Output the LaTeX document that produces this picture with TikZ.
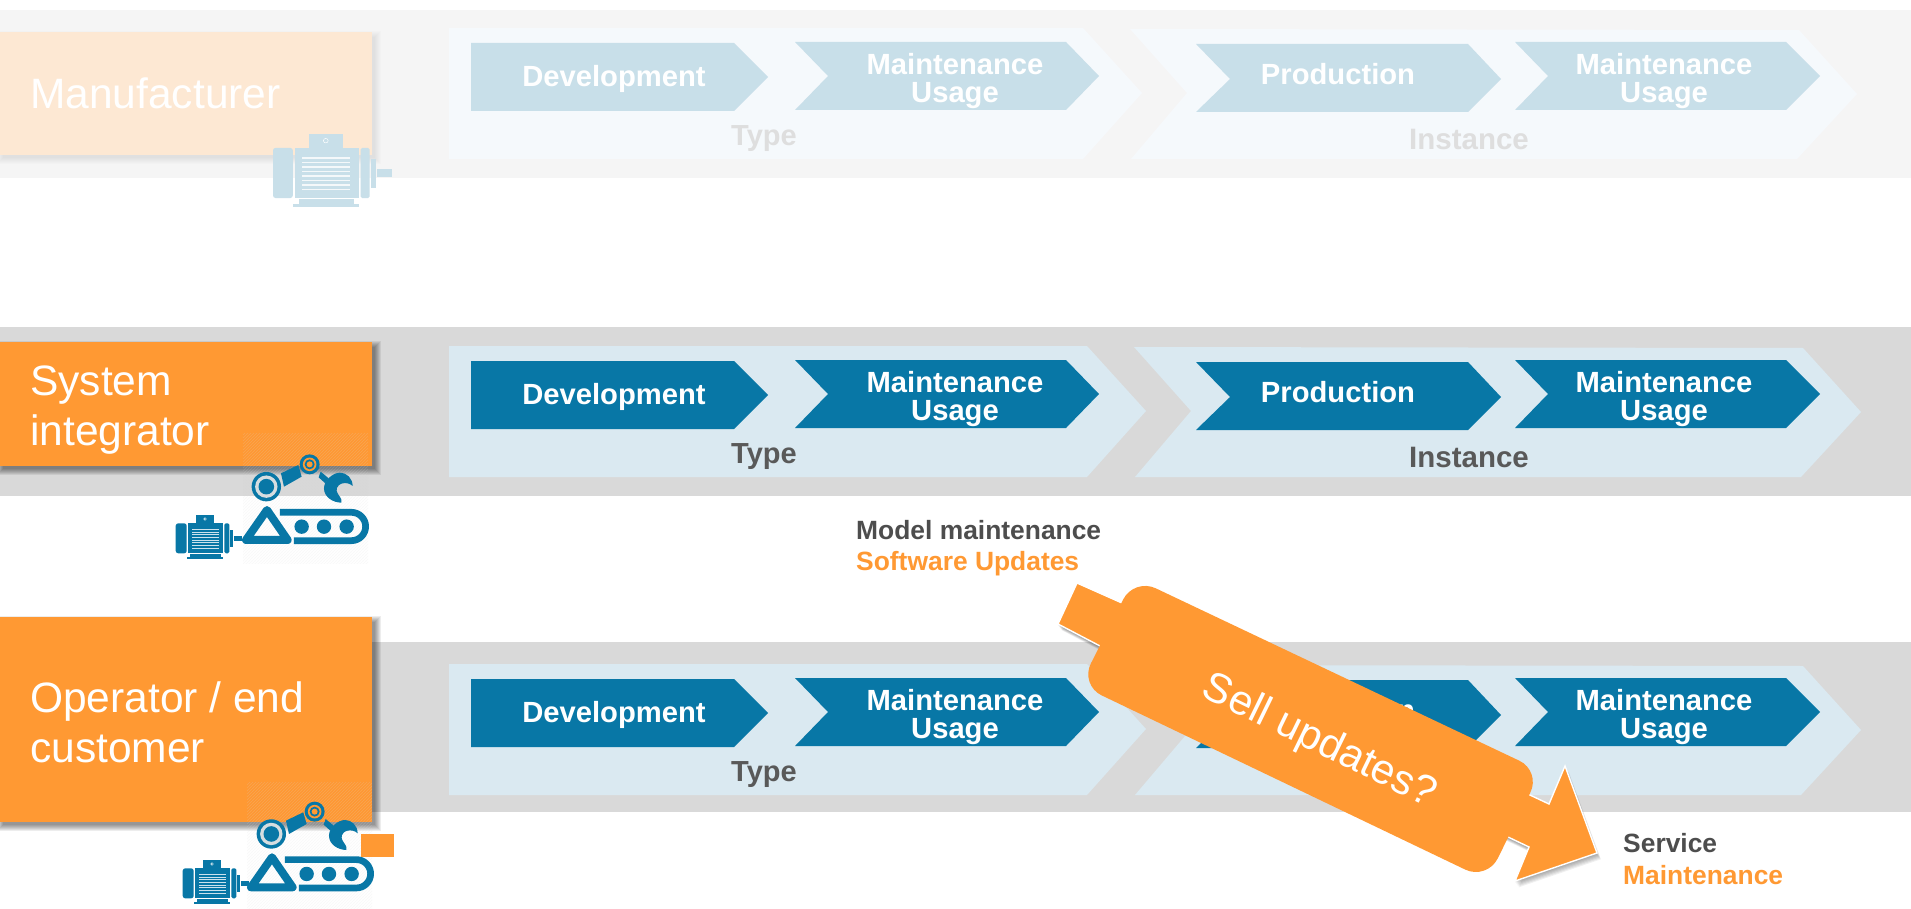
\documentclass[tikz,border=0pt]{standalone}
\usepackage{fontspec}
\setmainfont{Liberation Sans}
\usetikzlibrary{patterns}
\definecolor{obl}{HTML}{0877A6}
\definecolor{org}{HTML}{FF9933}
\definecolor{lbl}{HTML}{DAE9F1}
\definecolor{gry}{HTML}{D9D9D9}
\definecolor{txg}{HTML}{595959}
\definecolor{txd}{HTML}{4D4D4D}
\definecolor{pband}{HTML}{F5F5F5}
\definecolor{palout}{HTML}{F5F9FC}
\definecolor{palin}{HTML}{C8DFE9}
\definecolor{plab}{HTML}{DEDEDE}
\definecolor{pbox}{HTML}{FDE8D3}
\definecolor{ringc}{HTML}{D5DDE0}
\tikzset{
  x=1pt,y=-1pt,
  lab/.style={font=\bfseries\fontsize{29.2}{28}\selectfont,text=white,align=center,inner sep=0pt},
  typ/.style={font=\bfseries\fontsize{29}{29}\selectfont,inner sep=0pt},
  note/.style={font=\bfseries\fontsize{26.4}{26}\selectfont,inner sep=0pt,anchor=west},
  role/.style={font=\fontsize{42.5}{50}\selectfont,text=white,align=left,anchor=north west,inner sep=0pt},
  rolebox/.style={inner sep=0pt,anchor=north west,minimum width=372pt},
}
\newcommand{\softshadow}[5]{%
  \foreach \d in {0,1,2,3,4,5,6}{\fill[black,opacity=#5] (#1+\d-3,#2+\d-1) rectangle (#3+9-\d,#4+9-\d);}}
% #1 row name, #2 dy, #3 inner fill, #4 outer fill, #5 label colour, #6 outer dx
\newcommand{\chevrow}[6]{%
\begin{scope}[shift={(0,#2)}]
  \fill[#4] (449,346) -- (1087+#6,346) -- (1146+#6,411) -- (1087+#6,477) -- (449,477) -- cycle;
  \fill[#4] (1134+#6,347) -- (1803+#6,348) -- (1861+#6,412) -- (1801+#6,477) -- (1135+#6,477) -- (1191+#6,411) -- cycle;
  \fill[#3] (471,361) -- (734,361) -- (768,395) -- (734,429) -- (471,429) -- cycle;
  \fill[#3] (795,360) -- (1066,360) -- (1099,394) -- (1066,428) -- (795,428) -- (828,394) -- cycle;
  \fill[#3] (1196,362) -- (1468,362) -- (1501,397) -- (1468,430) -- (1196,430) -- (1230,397) -- cycle;
  \fill[#3] (1515,360) -- (1786,360) -- (1820,394) -- (1786,428) -- (1515,428) -- (1548,394) -- cycle;
  \node[lab] (dev#1) at (614,397) {Development};
  \node[lab] (mnt#1) at (955,399) {Maintenance\\Usage};
  \node[lab] (pro#1) at (1338,392) {Production};
  \node[lab] (usg#1) at (1664,399) {Maintenance\\Usage};
  \node[typ,text=#5] (typ#1) at (764,457) {Type};
  \node[typ,text=#5,font=\bfseries\fontsize{29.5}{30}\selectfont] (ins#1) at (1469,457) {Instance};
\end{scope}}
% motor: #1 x, #2 y, #3 xscale, #4 yscale, #5 colour; local units are thirds of a pixel
\newcommand{\motor}[5]{%
\begin{scope}[shift={(#1,#2)},x=#3*0.3333pt,y=-#4*0.3333pt]
  \fill[#5] (60,0) rectangle (116,25);
  \draw[white,line width=.5pt] (88,12) circle (4);
  \fill[#5,rounded corners=2.5pt] (0,25) rectangle (33,115);
  \fill[#5] (37,25) rectangle (143,115);
  \fill[#5,rounded corners=1.5pt] (146,25) rectangle (161,115);
  \fill[#5] (164,45) rectangle (171,97);
  \fill[#5] (174,62) rectangle (198,77);
  \fill[#5] (43,117) rectangle (135,125);
  \fill[#5] (33,125) rectangle (143,131);
  \foreach \yy in {42,50,58,66,74,82,90,98}{\fill[white,opacity=.8] (49,\yy) rectangle (129,\yy+3);}
\end{scope}}
% robot: #1 x, #2 y of the local origin; #3 colour of the elbow ring
\newcommand{\robot}[3]{%
\begin{scope}[shift={(#1,#2)},x=0.3333pt,y=-0.3333pt]
  \fill[obl] (439,200) ellipse (14.7pt and 14.7pt);
  \fill[ringc] (439,200) ellipse (11.2pt and 11.2pt);
  \fill[obl] (439,200) ellipse (7.8pt and 7.8pt);
  \fill[obl] (569,133) ellipse (10pt and 10pt);
  \fill[#3] (569,133) ellipse (6.8pt and 6.8pt);
  \fill[obl] (569,133) ellipse (5pt and 5pt);
  \fill[#3] (569,133) ellipse (3pt and 3pt);
  \fill[obl] (483,160) -- (535,135) -- (545,170) -- (492,200) -- cycle;
  \fill[obl] (602,155) -- (626,175) -- (616,190) -- (596,172) -- cycle;
  \fill[obl] (612,205) .. controls (612,180) and (640,158) .. (660,158) .. controls (680,158) and (698,175) .. (698,198)
     .. controls (690,190) and (678,188) .. (668,190) .. controls (648,195) and (648,212) .. (652,218)
     .. controls (656,228) and (668,236) .. (664,248) .. controls (640,248) and (612,232) .. (612,205) -- cycle;
  \draw[obl,line width=8pt,line join=round] (441,270) -- (378,360) -- (503,360) -- cycle;
  \draw[obl,line width=6.7pt,rounded corners=14.2pt] (480,277) -- (737,277) -- (737,362) -- (522,362);
  \foreach \xx in {545,612,680}{\fill[obl] (\xx,320) ellipse (7.2pt and 7.2pt);}
\end{scope}}
\begin{document}
\begin{tikzpicture}
\useasboundingbox (0,0) rectangle (1911,909);
\fill[white] (0,0) rectangle (1911,909);
% bands
\fill[pband] (0,10) rectangle (1911,178);
\fill[gry] (0,327) rectangle (1911,496);
\fill[gry] (0,642) rectangle (1911,812);
% rows
\chevrow{a}{-318}{palin}{palout}{plab}{-4}
\chevrow{b}{0}{obl}{lbl}{txg}{0}
\chevrow{c}{318}{obl}{lbl}{txg}{0}
% role boxes
\softshadow{0}{32}{372}{155}{.012}
\node[rolebox,fill=pbox,minimum height=123pt] (mfr) at (0,32) {};
\softshadow{0}{342}{372}{466}{.07}
\node[rolebox,fill=org,minimum height=124pt] (si) at (0,342) {};
\softshadow{0}{617}{372}{822}{.07}
\node[rolebox,fill=org,minimum height=205pt] (op) at (0,617) {};
\node[role] (mfrt) at (30,78) {Manufacturer};
\node[role] (sit) at (30,366) {System\\integrator};
\node[role] (opt) at (30,681) {Operator / end\\customer};
% icons
\motor{273}{134}{1.8}{1.67}{palin}
\fill[pattern=north east lines,pattern color=white,opacity=.14] (243,433) rectangle (368,563);
\fill[pattern=north east lines,pattern color=gray,opacity=.06] (243,433) rectangle (368,563);
\motor{175.7}{515}{1}{1}{obl}
\robot{120}{420}{org}
\fill[pattern=north east lines,pattern color=white,opacity=.14] (247,782) rectangle (372,909);
\fill[pattern=north east lines,pattern color=gray,opacity=.06] (247,782) rectangle (372,909);
\motor{182.7}{860}{1}{1}{obl}
\robot{125}{767.3}{org}
\fill[org] (361,834) rectangle (394,857);
% annotations
\node[note,text=txd] (mm) at (856,530) {Model maintenance};
\node[note,text=org] (su) at (856,564) {Software Updates};
\node[note,text=txd] (sv) at (1623,843) {Service};
\node[note,text=org] (mt) at (1623,875) {Maintenance};
% big arrow
\foreach \d in {1,2,3,4,5,6,7}{
  \fill[black,opacity=.06,shift={(\d*.7-1,\d*.9)}] (1077,583) -- (1122,603) -- (1549,804) -- (1565,766) -- (1597,853) -- (1515,881) -- (1529,847) -- (1508,837) -- (1100,646) -- (1058,624) -- cycle;}
\filldraw[fill=org,draw=white,line width=1.4pt,line join=miter] (1077,583) -- (1122,603) -- (1549,804) -- (1565,766) -- (1597,853) -- (1515,881) -- (1529,847) -- (1508,837) -- (1100,646) -- (1058,624) -- cycle;
\fill[org] (1124,606) -- (1526,795) -- (1510,835) -- (1102,644) -- cycle;
\fill[org,rounded corners=24pt] (1134,578) -- (1541,771) -- (1487,880) -- (1080,685) -- cycle;
\node[inner sep=0pt,text=white,rotate=-26,font=\fontsize{42}{42}\selectfont] (sell) at (1319,742) {Sell updates?};
\end{tikzpicture}
\end{document}
